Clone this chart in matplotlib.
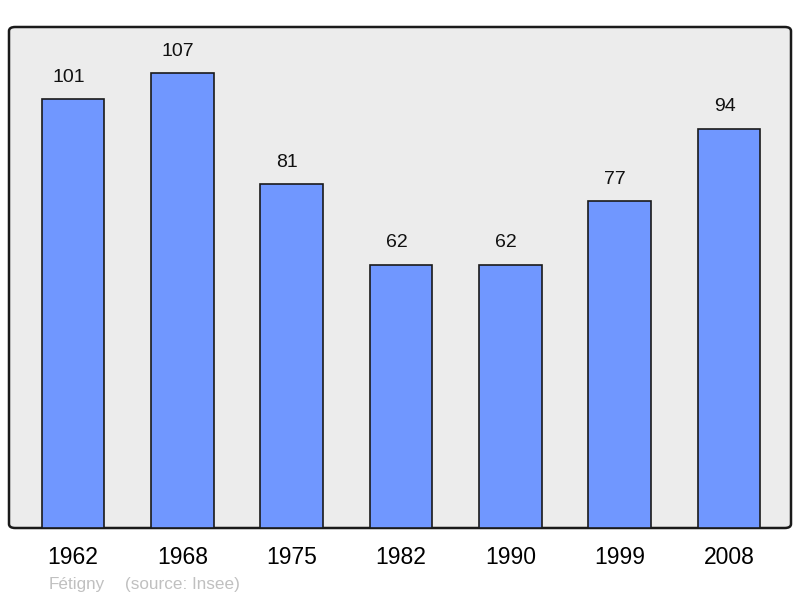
import matplotlib.pyplot as plt
from matplotlib.patches import FancyBboxPatch

years = ["1962", "1968", "1975", "1982", "1990", "1999", "2008"]
population = [101, 107, 81, 62, 62, 77, 94]
town = "Fétigny"
source = "(source: Insee)"

plt.rcParams['font.family'] = ['Liberation Sans', 'DejaVu Sans']

fig = plt.figure(figsize=(8, 5.98), dpi=100)
ax = fig.add_axes([9 / 800, 70 / 598, 782 / 800, 501 / 598])
ax.set_xlim(-0.585, 6.567)
ax.set_ylim(0, 117.9)
ax.patch.set_visible(False)
for s in ax.spines.values():
    s.set_visible(False)

# rounded grey frame
frame = FancyBboxPatch((0, 0), 1, 1, boxstyle="round,pad=0,rounding_size=0.008",
                       transform=ax.transAxes, facecolor="#ececec",
                       edgecolor="#1a1a1a", linewidth=1.8, zorder=0, clip_on=False)
ax.add_patch(frame)

x = range(len(years))
ax.bar(x, population, width=0.572, color="#7097ff", edgecolor="#1a1a1a",
       linewidth=1.2, zorder=2)
for xi, v in zip(x, population):
    ax.text(xi - 0.04, v + 3.1, str(v), ha="center", va="bottom", fontsize=14, color="#111111")

ax.set_xticks(list(x))
ax.set_xticklabels(years, fontsize=16.5)
ax.tick_params(axis="x", length=0, pad=13)
ax.set_yticks([])

fig.text(49 / 800, 1 - 584 / 598, town, fontsize=12.3, color="#c0c0c0", ha="left", va="center")
fig.text(125 / 800, 1 - 584 / 598, source, fontsize=12.3, color="#c0c0c0", ha="left", va="center")

fig.savefig("out.png", dpi=100)
